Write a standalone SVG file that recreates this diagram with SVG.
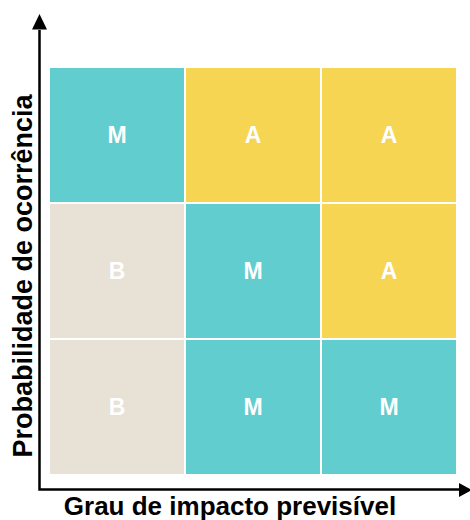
<svg xmlns="http://www.w3.org/2000/svg" width="470" height="520" viewBox="0 0 470 520">
<style>
.m{fill:#62CDCE}
.a{fill:#F6D552}
.b{fill:#E8E1D5}
.lbl{font-family:"Liberation Sans",Arial,sans-serif;font-weight:bold;font-size:23px;fill:#fff;text-anchor:middle}
.ax{font-family:"Liberation Sans",Arial,sans-serif;font-weight:bold;fill:#000;text-anchor:middle}
</style>
<g id="cell-1-1"><rect class="m" x="50" y="68" width="134" height="134"/><text class="lbl" x="117" y="143">M</text></g>
<g id="cell-1-2"><rect class="a" x="186" y="68" width="134" height="134"/><text class="lbl" x="253" y="143">A</text></g>
<g id="cell-1-3"><rect class="a" x="322" y="68" width="134" height="134"/><text class="lbl" x="389" y="143">A</text></g>
<g id="cell-2-1"><rect class="b" x="50" y="204" width="134" height="134"/><text class="lbl" x="117" y="279">B</text></g>
<g id="cell-2-2"><rect class="m" x="186" y="204" width="134" height="134"/><text class="lbl" x="253" y="279">M</text></g>
<g id="cell-2-3"><rect class="a" x="322" y="204" width="134" height="134"/><text class="lbl" x="389" y="279">A</text></g>
<g id="cell-3-1"><rect class="b" x="50" y="340" width="134" height="134"/><text class="lbl" x="117" y="415">B</text></g>
<g id="cell-3-2"><rect class="m" x="186" y="340" width="134" height="134"/><text class="lbl" x="253" y="415">M</text></g>
<g id="cell-3-3"><rect class="m" x="322" y="340" width="134" height="134"/><text class="lbl" x="389" y="415">M</text></g>
<g id="connectors">
<polyline points="39.5,30 39.5,489.5 460,489.5" fill="none" stroke="#000" stroke-width="2.5"/>
<path d="M39.5,14 L47,29.5 L32,29.5 Z" fill="#000"/>
<path d="M472,490 L459,483 L459,497 Z" fill="#000"/>
</g>
<g id="x-label"><text class="ax" x="230" y="515" font-size="26">Grau de impacto previsível</text></g>
<g id="y-label"><text class="ax" font-size="27" transform="translate(31.5,276) rotate(-90)">Probabilidade de ocorrência</text></g>
</svg>
